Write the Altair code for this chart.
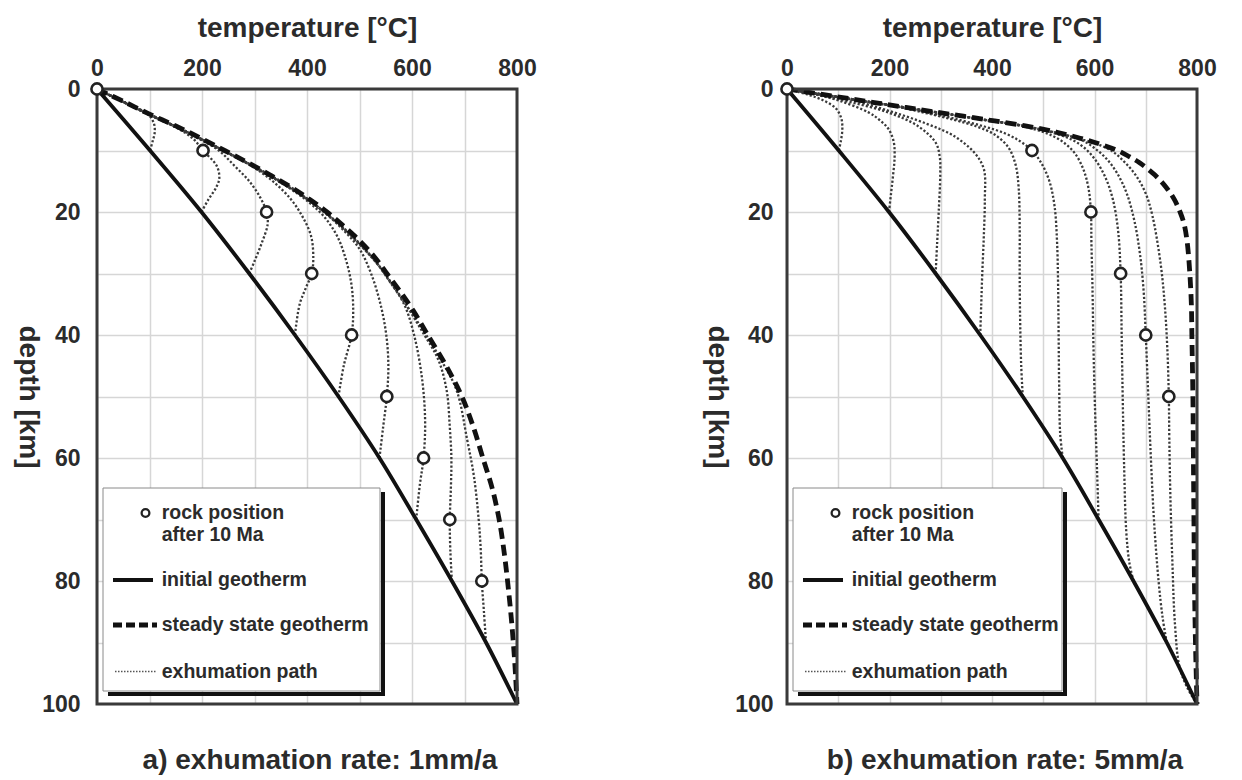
import altair as alt
import pandas as pd

FONT = "Liberation Sans"
INK = "#2b2b2b"

# ---------------- data ----------------
TEMP_TICKS = [0, 100, 200, 300, 400, 500, 600, 700, 800]
DEPTH_TICKS = [0, 10, 20, 30, 40, 50, 60, 70, 80, 90, 100]

# initial geotherm (same in both panels)
INIT_D = [0, 10, 20, 30, 40, 50, 60, 70, 80, 90, 100]
INIT_T = [0, 101, 199, 290, 377, 460, 538, 608, 676, 741, 800]

# panel a: exhumation rate 1 mm/a
A_STEADY_D = [0, 2, 4, 6, 8, 10, 12, 14, 16, 18, 20, 22, 24, 26, 28, 30, 33, 36, 40, 45,
              50, 55, 60, 65, 70, 75, 80, 85, 90, 95, 100]
A_STEADY_T = [0, 50, 98, 150, 198, 243, 288, 330, 370, 406, 438, 466, 492, 515, 535, 552, 578, 602, 630, 665,
              695, 717, 735, 753, 766, 775, 782, 788, 793, 797, 800]
A_CIRCLE_T = [0, 202, 323, 409, 485, 552, 622, 672, 733]
A_CIRCLE_D = [0, 10, 20, 30, 40, 50, 60, 70, 80]

A_PATH_10 = [(101, 10), (106, 8.5), (110, 7), (108, 5.5), (96, 4), (68, 2.8), (36, 1.5), (0, 0)]
A_PATH_20 = [(199, 20), (212, 18), (227, 16), (233, 14.5), (228, 12.5), (202, 10), (182, 8), (145, 6),
             (96, 4), (48, 2), (0, 0)]
A_PATH_30 = [(290, 30), (300, 28), (314, 25), (325, 22), (323, 20), (310, 17.5), (290, 15), (262, 12.5),
             (232, 10), (192, 8), (146, 6), (96, 4), (48, 2), (0, 0)]
A_PATH_40 = [(377, 40), (386, 35), (398, 32.3), (409, 30), (412, 27.5), (408, 24), (393, 21), (370, 18),
             (335, 15), (294, 12.5), (248, 10.3), (199, 8.2), (150, 6.2), (102, 4.3), (55, 2.3), (0, 0)]
A_PATH_50 = [(460, 50), (470, 45), (485, 40), (488, 36), (485, 32), (475, 28), (458, 24), (435, 21),
             (405, 18.5), (368, 16.2), (326, 14), (284, 12), (239, 10), (194, 8), (146, 6), (95, 4), (47, 2), (0, 0)]
A_PATH_60 = [(538, 60), (545, 55), (552, 50), (555, 45), (551, 40), (540, 35), (522, 30), (500, 26),
             (470, 23), (435, 20.2), (402, 18), (366, 16), (327, 14), (285, 12), (240, 10), (195, 8),
             (147, 6), (96, 4), (48, 2), (0, 0)]
A_PATH_70 = [(608, 70), (615, 64.3), (622, 60), (625, 54), (619, 47), (604, 40), (585, 35), (555, 31),
             (530, 28), (503, 25.5), (473, 23), (440, 20.5), (403, 18), (366, 16), (327, 14), (285, 12),
             (240, 10), (195, 8), (147, 6), (96, 4), (48, 2), (0, 0)]
A_PATH_80 = [(676, 80), (673, 75), (672, 70), (674, 65), (675, 60), (672, 55), (666, 49), (650, 44),
             (620, 39.5), (588, 35), (560, 31.5), (535, 28.5), (508, 25.8), (475, 23), (441, 20.5),
             (405, 18.2), (368, 16), (329, 14), (286, 12), (241, 10), (196, 8), (148, 6), (97, 4), (48, 2), (0, 0)]
A_PATH_90 = [(741, 90), (737, 85), (733, 80), (731, 75), (727, 70), (718, 63), (705, 57), (685, 49),
             (655, 44), (627, 40), (600, 36.5), (572, 33), (544, 29.5), (514, 26.5), (486, 24), (450, 21.2),
             (410, 18.5), (370, 16), (329, 14), (286, 12), (241, 10), (196, 8), (148, 6), (97, 4), (48, 2), (0, 0)]

# panel b: exhumation rate 5 mm/a
B_STEADY_D = [0, 1, 2, 3, 4, 5, 6, 7, 8, 9, 10, 11, 12, 14, 16, 18, 20, 22, 25, 30,
              35, 40, 50, 60, 70, 80, 90, 100]
B_STEADY_T = [0, 78, 155, 232, 310, 390, 465, 525, 572, 612, 645, 668, 688, 718, 740, 756, 767, 775, 781, 786,
              789, 790, 792, 793, 794, 795, 797, 800]
B_CIRCLE_T = [0, 478, 593, 651, 700, 745]
B_CIRCLE_D = [0, 10, 20, 30, 40, 50]

B_PATH_10 = [(101, 10), (105, 8.5), (108, 6.5), (106, 4.8), (96, 3.2), (72, 1.9), (40, 0.9), (0, 0)]
B_PATH_20 = [(199, 20), (203, 17), (207, 14), (210, 11), (208, 8.5), (198, 6.5), (180, 5), (159, 3.8),
             (102, 1.9), (51, 0.8), (0, 0)]
B_PATH_30 = [(290, 30), (293, 25), (296, 20), (299, 14), (298, 11), (290, 8.7), (255, 6), (197, 3.8),
             (127, 2.2), (60, 0.9), (0, 0)]
B_PATH_40 = [(377, 40), (379, 35), (381, 30), (384, 24), (386, 18), (384, 13), (365, 10.3), (325, 7.6),
             (274, 5.7), (197, 3.5), (115, 1.6), (50, 0.6), (0, 0)]
B_PATH_50 = [(460, 50), (457, 45), (455, 38), (454, 30), (454, 22), (452, 16), (446, 12.3), (432, 9.5),
             (405, 7.4), (370, 6.1), (325, 5), (270, 3.9), (210, 2.8), (142, 1.9), (70, 0.95), (0, 0)]
B_PATH_60 = [(538, 60), (533, 56), (531, 48), (530, 40), (529, 32), (527, 25), (522, 19), (512, 15),
             (496, 12), (478, 10), (455, 8.5), (425, 7.2), (385, 6.1), (340, 5.1), (290, 4.1), (225, 3.0),
             (150, 2.0), (75, 1.0), (0, 0)]
B_PATH_70 = [(608, 70), (605, 62), (601, 52), (598, 42), (596, 32), (594, 25), (593, 20), (588, 16),
             (578, 13), (562, 10.5), (540, 8.7), (515, 7.5), (485, 6.6), (445, 5.8), (385, 5.05), (320, 4.15),
             (245, 3.2), (165, 2.15), (85, 1.1), (0, 0)]
B_PATH_80 = [(676, 80), (668, 77), (662, 72), (658, 62), (655, 50), (653, 40), (651, 30), (646, 23),
             (636, 18), (622, 14.5), (604, 11.8), (582, 9.7), (555, 8.2), (522, 7.2), (490, 6.5), (452, 5.85),
             (392, 5.1), (325, 4.2), (250, 3.25), (170, 2.2), (88, 1.15), (0, 0)]
B_PATH_90 = [(741, 90), (733, 86), (725, 80), (716, 70), (710, 60), (705, 50), (700, 40), (696, 33),
             (689, 27), (678, 21.5), (663, 17), (645, 13.8), (625, 11.5), (603, 9.8), (575, 8.3), (540, 7.4),
             (502, 6.7), (462, 6), (400, 5.2), (332, 4.3), (253, 3.3), (173, 2.25), (90, 1.17), (0, 0)]
B_PATH_100 = [(800, 100), (782, 97.5), (766, 94), (757, 87), (752, 77), (748, 66), (746, 57), (745, 50),
              (742, 42), (737, 35), (729, 28.4), (713, 20.6), (700, 17), (682, 14.2), (660, 12), (636, 10.2),
              (604, 8.9), (566, 8), (540, 7.4), (509, 6.8), (466, 6.05), (405, 5.25), (335, 4.35), (257, 3.35),
              (176, 2.3), (92, 1.2), (0, 0)]

A_PATHS = [A_PATH_10, A_PATH_20, A_PATH_30, A_PATH_40, A_PATH_50, A_PATH_60, A_PATH_70, A_PATH_80, A_PATH_90]
B_PATHS = [B_PATH_10, B_PATH_20, B_PATH_30, B_PATH_40, B_PATH_50, B_PATH_60, B_PATH_70, B_PATH_80,
           B_PATH_90, B_PATH_100]

LEGEND_TEXT = ["rock position", "after 10 Ma", "initial geotherm", "steady state geotherm", "exhumation path"]


# ---------------- helpers ----------------
def curve_df(ts, ds):
    return pd.DataFrame({"T": ts, "d": ds, "i": list(range(len(ts)))})


def paths_df(paths):
    rows = []
    for pid, pts in enumerate(paths):
        for i, (t, d) in enumerate(pts):
            rows.append({"pid": pid, "i": i, "T": t, "d": d})
    return pd.DataFrame(rows)


ONE = pd.DataFrame({"k": [0]})


def panel(W, H, steady_t, steady_d, paths, circ_t, circ_d, caption, cap_x, leg_right,
          y_title_pad, y_label_pad):
    xs = alt.Scale(domain=[0, 800], nice=False, zero=False)
    ys = alt.Scale(domain=[0, 100], reverse=True, nice=False, zero=False)
    xax = alt.Axis(orient="top", values=TEMP_TICKS,
                   labelExpr="datum.value % 200 === 0 ? datum.label : ''",
                   grid=True, gridColor="#d6d6d6", gridWidth=1.5, ticks=False, tickSize=0, domain=False,
                   labelFlush=False, labelPadding=9, labelFontSize=23, labelFontWeight="bold",
                   labelColor=INK, labelFont=FONT,
                   title="temperature [°C]", titleFontSize=28, titleFontWeight="bold", titleColor=INK,
                   titleFont=FONT, titlePadding=15)
    yax = alt.Axis(orient="left", values=DEPTH_TICKS,
                   labelExpr="datum.value % 20 === 0 ? datum.label : ''",
                   grid=True, gridColor="#d6d6d6", gridWidth=1.5, ticks=False, tickSize=0, domain=False,
                   labelFlush=False, labelPadding=y_label_pad, labelFontSize=23, labelFontWeight="bold",
                   labelColor=INK, labelFont=FONT,
                   title="depth [km]", titleAngle=90, titleBaseline="top", titleFontSize=28,
                   titleFontWeight="bold", titleColor=INK, titleFont=FONT, titlePadding=y_title_pad)
    X = alt.X("T:Q", scale=xs, axis=xax)
    Y = alt.Y("d:Q", scale=ys, axis=yax)

    pth = alt.Chart(paths_df(paths)).mark_line(
        color="#3a3a3a", strokeWidth=2.3, strokeDash=[2.2, 2.0], interpolate="catmull-rom"
    ).encode(x=X, y=Y, detail="pid:N", order="i:Q")
    init = alt.Chart(curve_df(INIT_T, INIT_D)).mark_line(
        color="#111111", strokeWidth=3.8, interpolate="catmull-rom"
    ).encode(x=X, y=Y, order="i:Q")
    steady = alt.Chart(curve_df(steady_t, steady_d)).mark_line(
        color="#111111", strokeWidth=4.8, strokeDash=[11, 6], interpolate="catmull-rom"
    ).encode(x=X, y=Y, order="i:Q")
    border = alt.Chart(ONE).mark_rect(filled=False, stroke="#3a3a3a", strokeWidth=3).encode(
        x=alt.value(0), x2=alt.value(W), y=alt.value(0), y2=alt.value(H))
    circ = alt.Chart(pd.DataFrame({"T": circ_t, "d": circ_d})).mark_point(
        shape="circle", filled=True, fill="white", stroke="#222222", strokeWidth=2.6, size=125, opacity=1
    ).encode(x=X, y=Y)

    # legend box drawn in pixel space
    box = alt.Chart(ONE).mark_rect(fill="white", stroke="#8a8a8a", strokeWidth=1).encode(
        x=alt.value(6), x2=alt.value(leg_right - 3), y=alt.value(399), y2=alt.value(602))
    shadow_r = alt.Chart(ONE).mark_rule(color="#111111", strokeWidth=4).encode(
        x=alt.value(leg_right), y=alt.value(403), y2=alt.value(607))
    shadow_b = alt.Chart(ONE).mark_rule(color="#111111", strokeWidth=4).encode(
        x=alt.value(11), x2=alt.value(leg_right + 2), y=alt.value(605))
    leg_c = alt.Chart(ONE).mark_point(
        shape="circle", filled=True, fill="white", stroke="#222222", strokeWidth=2.3, size=60, opacity=1
    ).encode(x=alt.value(48.5), y=alt.value(424))
    leg_solid = alt.Chart(ONE).mark_rule(color="#111111", strokeWidth=3.8).encode(
        x=alt.value(16), x2=alt.value(56), y=alt.value(491))
    leg_dash = alt.Chart(ONE).mark_rule(color="#111111", strokeWidth=4.8, strokeDash=[9, 4]).encode(
        x=alt.value(16), x2=alt.value(60), y=alt.value(536))
    leg_dot = alt.Chart(ONE).mark_rule(color="#555555", strokeWidth=1.6, strokeDash=[1.5, 1.5]).encode(
        x=alt.value(18), x2=alt.value(60), y=alt.value(582.5))
    leg_y = [424, 446, 491, 536, 582.5]
    texts = [
        alt.Chart(ONE).mark_text(align="left", baseline="middle", fontSize=19.5, fontWeight="bold",
                                 font=FONT, color=INK).encode(
            x=alt.value(64.7), y=alt.value(yy), text=alt.value(tt))
        for tt, yy in zip(LEGEND_TEXT, leg_y)
    ]
    cap = alt.Chart(ONE).mark_text(align="center", baseline="middle", fontSize=28, fontWeight="bold",
                                   font=FONT, color=INK).encode(
        x=alt.value(cap_x), y=alt.value(672), text=alt.value(caption))

    return alt.layer(pth, init, steady, border, circ, box, shadow_r, shadow_b, leg_c,
                     leg_solid, leg_dash, leg_dot, *texts, cap).properties(width=W, height=H)


left = panel(420, 615, A_STEADY_T, A_STEADY_D, A_PATHS, A_CIRCLE_T, A_CIRCLE_D,
             "a) exhumation rate: 1mm/a", 223, 286, 0, 17)
right = panel(410, 615, B_STEADY_T, B_STEADY_D, B_PATHS, B_CIRCLE_T, B_CIRCLE_D,
              "b) exhumation rate: 5mm/a", 218, 278, 4, 14)

chart = alt.hconcat(left, right, spacing=270, bounds="flush").configure_view(stroke="transparent")

chart.save("out.html", embed_options={"renderer": "svg", "actions": False})
